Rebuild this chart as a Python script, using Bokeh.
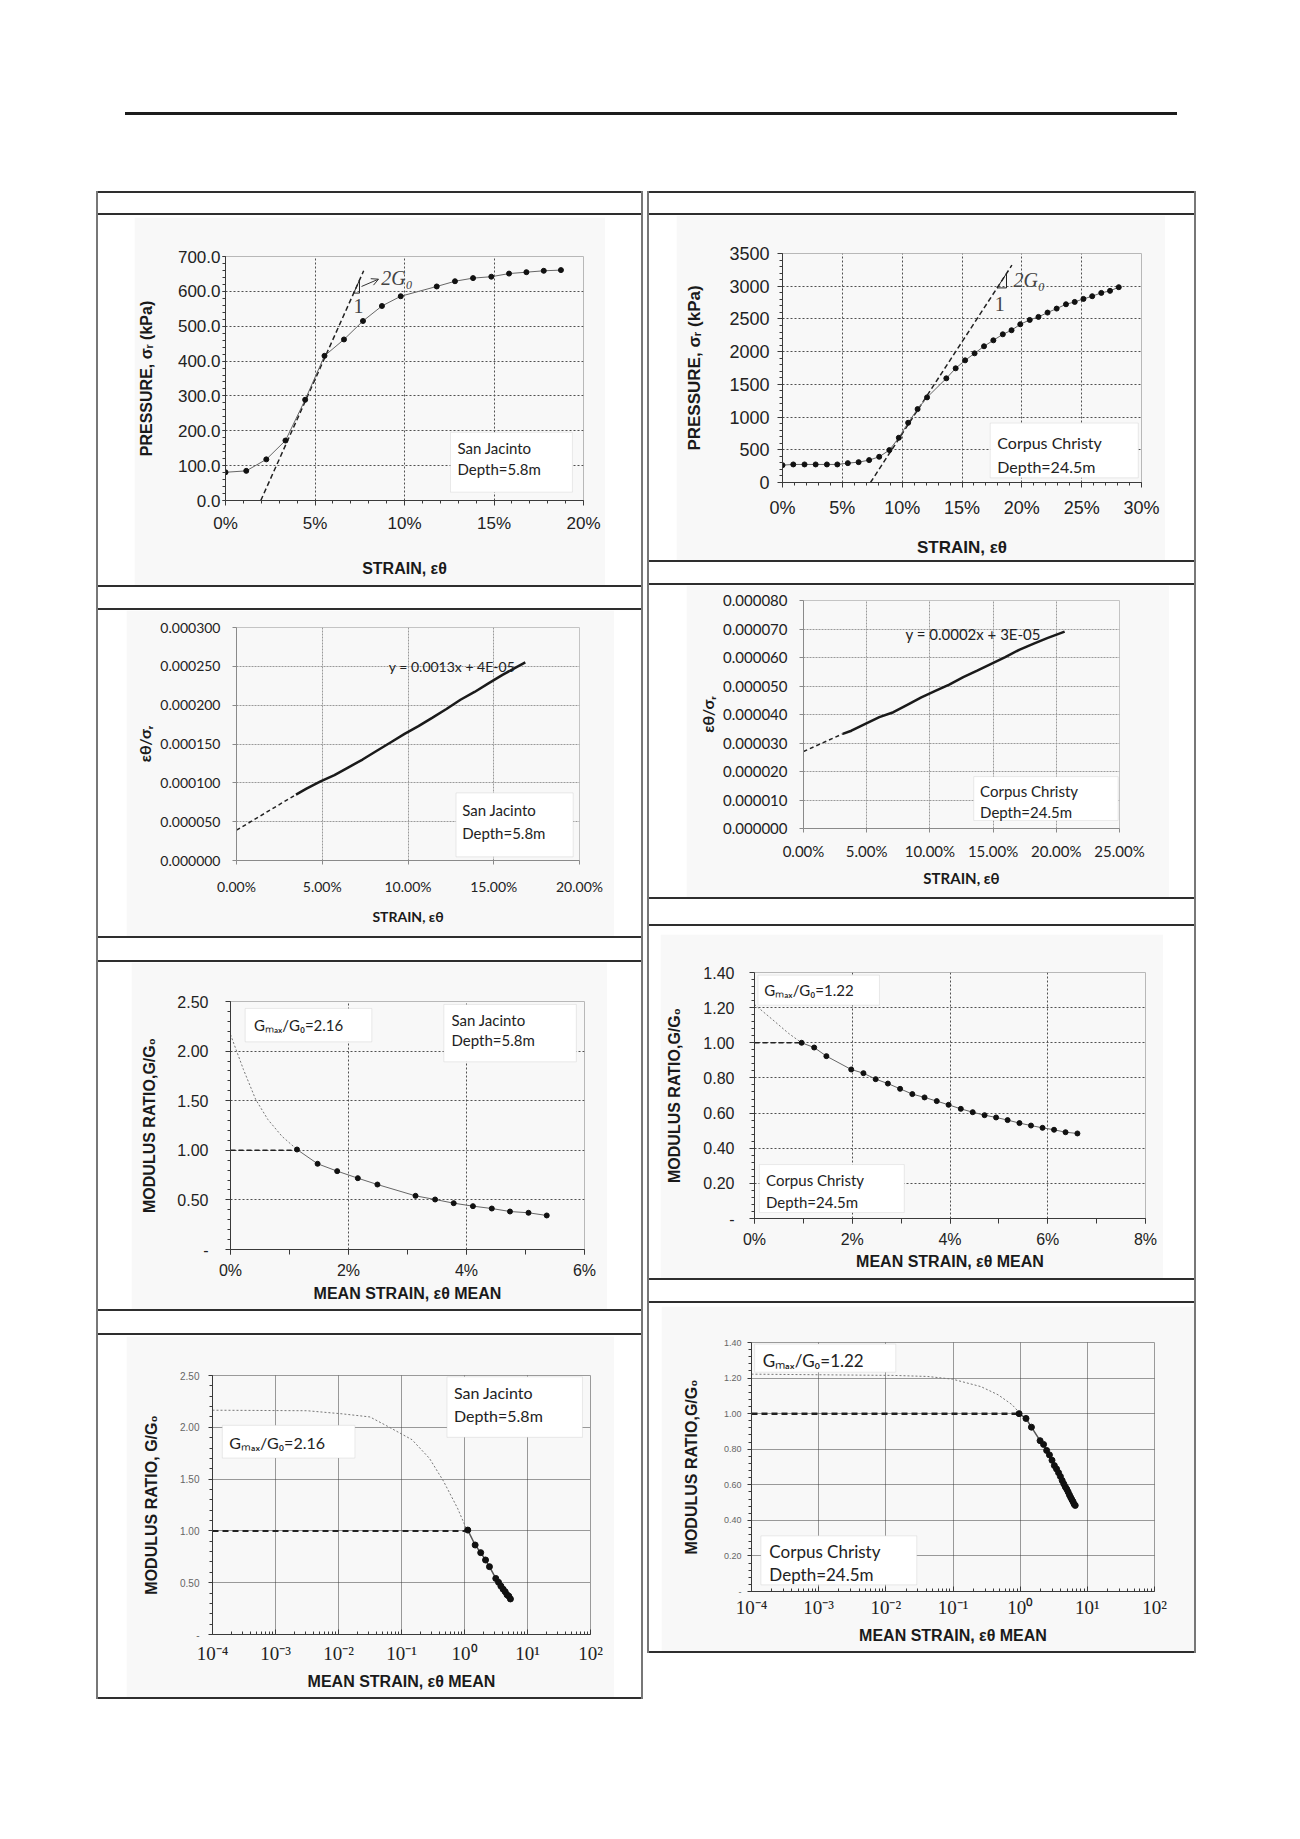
from bokeh.plotting import figure
from bokeh.models import (Range1d, FixedTicker, PrintfTickFormatter, CustomJSTickFormatter,
                          BoxAnnotation, Label, Arrow, OpenHead, Div, Spacer)
from bokeh.layouts import row, column
from bokeh.embed import file_html
from bokeh.resources import INLINE

# ------------------------------------------------------------------ data
# San Jacinto, depth 5.8 m : pressuremeter curve (strain %, pressure kPa)
sj_strain = [0.0, 1.16, 2.28, 3.35, 4.45, 5.53, 6.62, 7.68, 8.74, 9.79, 11.8, 12.82,
             13.83, 14.85, 15.84, 16.81, 17.78, 18.74]
sj_pressure = [81, 85, 118, 172, 289, 415, 462, 515, 558, 586, 614, 629, 638, 642,
               651, 655, 659, 661]
sj_tangent_x = [1.97, 7.72]
sj_tangent_y = [0, 659]

# Corpus Christy, depth 24.5 m
cc_strain = [0.0, 0.9, 1.84, 2.77, 3.71, 4.58, 5.46, 6.36, 7.24, 8.08, 8.93, 9.72, 10.5,
             11.29, 12.08, 13.69, 14.47, 15.26, 16.05, 16.84, 17.62, 18.41, 19.14, 19.87,
             20.66, 21.39, 22.15, 22.91, 23.69, 24.42, 25.15, 25.88, 26.64, 27.37, 28.1]
cc_pressure = [265, 276, 276, 276, 276, 276, 296, 311, 342, 393, 495, 684, 913, 1122, 1301,
               1592, 1745, 1867, 1974, 2082, 2173, 2265, 2327, 2418, 2485, 2531, 2597, 2658,
               2724, 2760, 2806, 2847, 2898, 2929, 2985]
cc_tangent_x = [7.35, 19.17]
cc_tangent_y = [0, 3321]

# hyperbolic transform  eps/sigma vs eps
sj_hyp_x = [3.47, 4.08, 4.90, 5.71, 6.53, 7.35, 8.16, 8.98, 9.80, 10.61, 11.43, 12.24,
            13.06, 13.88, 14.69, 15.51, 16.33, 16.84]
sj_hyp_y = [0.0000849, 0.0000926, 0.000102, 0.000110, 0.000120, 0.000130, 0.000141,
            0.000152, 0.000163, 0.000173, 0.000184, 0.000195, 0.000207, 0.000217,
            0.000228, 0.000239, 0.000249, 0.000255]
sj_hyp_ext_x = [0.0, 3.47]
sj_hyp_ext_y = [0.000039, 0.0000849]
sj_fit_text = "y = 0.0013x + 4E-05"

cc_hyp_x = [3.10, 3.79, 4.89, 6.0, 7.11, 8.21, 9.32, 10.43, 11.53, 12.64, 13.74, 14.85,
            15.96, 17.06, 18.17, 19.28, 20.66]
cc_hyp_y = [0.0000332, 0.0000343, 0.0000367, 0.0000391, 0.0000408, 0.0000434, 0.0000460,
            0.0000483, 0.0000505, 0.0000531, 0.0000554, 0.0000578, 0.0000601, 0.0000627,
            0.0000648, 0.0000668, 0.0000691]
cc_hyp_ext_x = [0.0, 3.10]
cc_hyp_ext_y = [0.0000270, 0.0000332]
cc_fit_text = "y = 0.0002x + 3E-05"

# modulus ratio G/G0 vs mean strain (%)
sj_mean_strain = [1.127, 1.476, 1.808, 2.158, 2.49, 3.136, 3.468, 3.783, 4.109, 4.429,
                  4.737, 5.051, 5.36]
sj_ratio = [1.008, 0.864, 0.790, 0.719, 0.655, 0.541, 0.504, 0.467, 0.437, 0.413, 0.383,
            0.370, 0.343]
sj_ext_lin_x = [0.0, 0.219, 0.427, 0.634, 0.871, 1.127]
sj_ext_lin_y = [2.167, 1.815, 1.512, 1.31, 1.142, 1.008]
sj_ext_log_x = [1e-4, 0.00316, 0.0114, 0.0316, 0.06, 0.147, 0.278, 0.464, 0.774, 1.108]
sj_ext_log_y = [2.165, 2.16, 2.13, 2.10, 2.01, 1.88, 1.70, 1.48, 1.22, 1.0]
sj_gmax_text = "Gₘₐₓ/G₀=2.16"

cc_mean_strain = [0.964, 1.221, 1.471, 1.979, 2.229, 2.479, 2.729, 2.979, 3.229, 3.479,
                  3.729, 3.971, 4.221, 4.464, 4.707, 4.943, 5.179, 5.421, 5.657, 5.893,
                  6.129, 6.364, 6.607]
cc_ratio = [1.0, 0.973, 0.924, 0.848, 0.827, 0.793, 0.768, 0.738, 0.708, 0.689, 0.668,
            0.647, 0.624, 0.605, 0.588, 0.575, 0.560, 0.543, 0.529, 0.516, 0.505, 0.491,
            0.484]
cc_ext_lin_x = [0.0, 0.343, 0.7, 0.964]
cc_ext_lin_y = [1.218, 1.138, 1.053, 1.0]
cc_ext_log_x = [1e-4, 0.0128, 0.042, 0.098, 0.26, 0.47, 0.76, 1.0]
cc_ext_log_y = [1.222, 1.215, 1.209, 1.194, 1.152, 1.106, 1.05, 1.0]
cc_gmax_text = "Gₘₐₓ/G₀=1.22"

sj_site = ["San Jacinto", "Depth=5.8m"]
cc_site = ["Corpus Christy", "Depth=24.5m"]

# tick values
p1_xticks = [0, 5, 10, 15, 20]
p1_yticks = [0, 100, 200, 300, 400, 500, 600, 700]
p2_xticks = [0, 5, 10, 15, 20, 25, 30]
p2_yticks = [0, 500, 1000, 1500, 2000, 2500, 3000, 3500]
p3_xticks = [0, 5, 10, 15, 20]
p3_yticks = [0, 0.00005, 0.0001, 0.00015, 0.0002, 0.00025, 0.0003]
p4_xticks = [0, 5, 10, 15, 20, 25]
p4_yticks = [0, 0.00001, 0.00002, 0.00003, 0.00004, 0.00005, 0.00006, 0.00007, 0.00008]
p5_xticks = [0, 2, 4, 6]
p5_yticks = [0, 0.5, 1.0, 1.5, 2.0, 2.5]
p6_xticks = [0, 2, 4, 6, 8]
p6_yticks = [0, 0.2, 0.4, 0.6, 0.8, 1.0, 1.2, 1.4]
log_ticks = [1e-4, 1e-3, 1e-2, 1e-1, 1e0, 1e1, 1e2]

# ------------------------------------------------------------------ style helpers
ARIAL = "Liberation Sans"
CALIBRI = "Lato"
SERIF = "Liberation Serif"
IMG_BG = "#f8f8f8"


def base_fig(w, h, ml, mr, mt, mb, xr, yr, x_log=False):
    p = figure(width=w, height=h, x_range=Range1d(*xr), y_range=Range1d(*yr),
               x_axis_type="log" if x_log else "linear",
               output_backend="svg", toolbar_location=None,
               min_border_left=ml, min_border_right=mr,
               min_border_top=mt, min_border_bottom=mb)
    p.border_fill_color = IMG_BG
    p.background_fill_color = IMG_BG
    p.outline_line_color = "#b8b8b8"
    for ax in (p.xaxis[0], p.yaxis[0]):
        ax.axis_line_color = "#3a3a3a"
        ax.major_tick_line_color = "#3a3a3a"
        ax.minor_tick_line_color = "#3a3a3a"
        ax.major_tick_in = 0
        ax.major_tick_out = 5
        ax.minor_tick_in = 0
        ax.minor_tick_out = 3
        ax.major_label_text_color = "#222222"
        ax.axis_label_text_color = "#1a1a1a"
        ax.axis_label_text_font_style = "bold"
        ax.major_label_text_font = ARIAL
        ax.axis_label_text_font = ARIAL
    for g in (p.xgrid[0], p.ygrid[0]):
        g.grid_line_color = "#505050"
        g.grid_line_dash = "2 2"
        g.grid_line_width = 1
    return p


def axis_fmt(ax, label, lab_size, title_size, tick_out, lab_standoff, title_standoff,
             font=ARIAL, lab_color="#222222"):
    ax.axis_label = label
    ax.major_label_text_font_size = lab_size
    ax.axis_label_text_font_size = title_size
    ax.major_tick_out = tick_out
    ax.major_label_standoff = lab_standoff
    ax.axis_label_standoff = title_standoff
    ax.major_label_text_font = font
    ax.axis_label_text_font = font
    ax.major_label_text_color = lab_color


def site_box(p, left, right, bottom, top, tx, ty1, ty2, lines, size="15px"):
    p.add_layout(BoxAnnotation(left=left, right=right, bottom=bottom, top=top,
                               fill_color="white", fill_alpha=1.0,
                               line_color="#bcbcbc", line_width=1))
    for txt, ty in zip(lines, (ty1, ty2)):
        p.add_layout(Label(x=tx, y=ty, text=txt, text_font=CALIBRI, text_font_size=size,
                           text_baseline="middle", text_align="left", text_color="#222222"))


def gmax_box(p, left, right, bottom, top, tx, ty, txt, size="15px"):
    p.add_layout(BoxAnnotation(left=left, right=right, bottom=bottom, top=top,
                               fill_color="white", fill_alpha=1.0,
                               line_color="#bcbcbc", line_width=1))
    p.add_layout(Label(x=tx, y=ty, text=txt, text_font=CALIBRI, text_font_size=size,
                       text_baseline="middle", text_align="left", text_color="#222222"))


def on_line(xs, ys, y):
    return xs[0] + (y - ys[0]) * (xs[1] - xs[0]) / (ys[1] - ys[0])


def slope_triangle(p, xs, ys, y_lo, y_hi):
    xa = on_line(xs, ys, y_lo)
    xb = on_line(xs, ys, y_hi)
    p.line([xa, xb, xb, xa], [y_lo, y_hi, y_lo, y_lo], line_color="#222222", line_width=1)


zero_dash = CustomJSTickFormatter(code="return tick == 0 ? '-' : tick.toFixed(2);")
log_fmt_code = """
const e = Math.round(Math.log10(tick));
const m = {"-":"\u207b","0":"\u2070","1":"\u00b9","2":"\u00b2","3":"\u00b3","4":"\u2074",
           "5":"\u2075","6":"\u2076","7":"\u2077","8":"\u2078","9":"\u2079"};
return "10" + String(e).split("").map(c => m[c]).join("");
"""

# ------------------------------------------------------------------ panel 1
p1 = base_fig(471, 368, 87, 22, 39, 85, (0, 20), (0, 700))
p1.xaxis.ticker = FixedTicker(ticks=p1_xticks, minor_ticks=list(range(0, 21)))
p1.yaxis.ticker = FixedTicker(ticks=p1_yticks, minor_ticks=list(range(0, 701, 20)))
p1.xaxis.formatter = PrintfTickFormatter(format="%d%%")
p1.yaxis.formatter = PrintfTickFormatter(format="%.1f")
axis_fmt(p1.xaxis[0], "STRAIN, εθ", "17px", "16px", 5, 8, 24)
axis_fmt(p1.yaxis[0], "PRESSURE, σᵣ (kPa)", "17px", "16px", 3, 2, 20)
p1.line(sj_tangent_x, sj_tangent_y, line_color="#222222", line_width=1.5, line_dash="5 3")
p1.line(sj_strain, sj_pressure, line_color="#666666", line_width=1)
p1.scatter(sj_strain, sj_pressure, size=5, color="#111111")
slope_triangle(p1, sj_tangent_x, sj_tangent_y, 595, 632)
p1.add_layout(Arrow(x_start=7.6, y_start=614, x_end=8.55, y_end=635, line_width=1,
                    line_color="#333333", end=OpenHead(size=7, line_width=1, line_color="#333333")))
p1.add_layout(Label(x=8.7, y=638, text="2G₀", text_font=SERIF, text_font_style="italic",
                    text_font_size="20px", text_baseline="middle"))
p1.add_layout(Label(x=7.43, y=559, text="1", text_font=SERIF, text_font_size="20px",
                    text_baseline="middle", text_align="center"))
site_box(p1, 12.57, 19.38, 23.9, 195.8, 12.96, 151, 90.7, sj_site, "15px")

# ------------------------------------------------------------------ panel 2
p2 = base_fig(489, 345, 106, 24, 38, 78, (0, 30), (0, 3500))
p2.xaxis.ticker = FixedTicker(ticks=p2_xticks, minor_ticks=list(range(0, 31)))
p2.yaxis.ticker = FixedTicker(ticks=p2_yticks, minor_ticks=list(range(0, 3501, 100)))
p2.xaxis.formatter = PrintfTickFormatter(format="%d%%")
p2.yaxis.formatter = PrintfTickFormatter(format="%d")
axis_fmt(p2.xaxis[0], "STRAIN, εθ", "18px", "17px", 5, 10, 17)
axis_fmt(p2.yaxis[0], "PRESSURE, σᵣ (kPa)", "18px", "17px", 5, 8, 22)
p2.line(cc_tangent_x, cc_tangent_y, line_color="#222222", line_width=1.5, line_dash="5 3")
p2.line(cc_strain, cc_pressure, line_color="#666666", line_width=1)
p2.scatter(cc_strain, cc_pressure, size=5, color="#111111")
slope_triangle(p2, cc_tangent_x, cc_tangent_y, 2974, 3194)
p2.add_layout(Label(x=19.3, y=3092, text="2G₀", text_font=SERIF, text_font_style="italic",
                    text_font_size="20px", text_baseline="middle"))
p2.add_layout(Label(x=18.15, y=2735, text="1", text_font=SERIF, text_font_size="20px",
                    text_baseline="middle", text_align="center"))
site_box(p2, 17.36, 29.73, 71, 908, 17.95, 607, 240, cc_site, "16px")

# ------------------------------------------------------------------ panel 3
def excel2010(p):
    for ax in (p.xaxis[0], p.yaxis[0]):
        ax.axis_line_color = "#8a8a8a"
        ax.major_tick_line_color = "#8a8a8a"
        ax.minor_tick_line_color = None
        ax.axis_label_text_font = CALIBRI
        ax.major_label_text_font = CALIBRI
    for g in (p.xgrid[0], p.ygrid[0]):
        g.grid_line_color = "#9a9a9a"
        g.grid_line_dash = "2 1"
    p.outline_line_color = "#c4c4c4"


p3 = base_fig(488, 326, 110, 35, 17, 76, (0, 20), (0, 0.0003))
excel2010(p3)
p3.xaxis.ticker = FixedTicker(ticks=p3_xticks)
p3.yaxis.ticker = FixedTicker(ticks=p3_yticks)
p3.xaxis.formatter = PrintfTickFormatter(format="%.2f%%")
p3.yaxis.formatter = PrintfTickFormatter(format="%.6f")
axis_fmt(p3.xaxis[0], "STRAIN, εθ", "14px", "14px", 4, 13, 10, font=CALIBRI)
axis_fmt(p3.yaxis[0], "εθ/σᵣ", "14px", "16px", 4, 12, 3, font=CALIBRI)
p3.line(sj_hyp_ext_x, sj_hyp_ext_y, line_color="#222222", line_width=1.5, line_dash="4 3")
p3.line(sj_hyp_x, sj_hyp_y, line_color="#1a1a1a", line_width=2.5)
p3.add_layout(Label(x=8.88, y=0.00025, text=sj_fit_text, text_font=CALIBRI,
                    text_font_size="14px", text_baseline="middle", text_color="#222222"))
site_box(p3, 12.8, 19.63, 0.0000047, 0.000087, 13.16, 0.0000647, 0.0000356, sj_site, "15px")

# ------------------------------------------------------------------ panel 4
p4 = base_fig(483, 312, 117, 50, 15, 69, (0, 25), (0, 0.00008))
excel2010(p4)
p4.xaxis.ticker = FixedTicker(ticks=p4_xticks)
p4.yaxis.ticker = FixedTicker(ticks=p4_yticks)
p4.xaxis.formatter = PrintfTickFormatter(format="%.2f%%")
p4.yaxis.formatter = PrintfTickFormatter(format="%.6f")
axis_fmt(p4.xaxis[0], "STRAIN, εθ", "15px", "15px", 4, 9, 6, font=CALIBRI)
axis_fmt(p4.yaxis[0], "εθ/σᵣ", "15px", "16px", 4, 12, 3, font=CALIBRI)
p4.line(cc_hyp_ext_x, cc_hyp_ext_y, line_color="#222222", line_width=1.5, line_dash="4 3")
p4.line(cc_hyp_x, cc_hyp_y, line_color="#1a1a1a", line_width=2.5)
p4.add_layout(Label(x=8.07, y=0.0000683, text=cc_fit_text, text_font=CALIBRI,
                    text_font_size="15px", text_baseline="middle", text_color="#222222"))
site_box(p4, 13.47, 24.89, 0.0000028, 0.0000182, 13.97, 0.000013, 0.00000596, cc_site, "15px")

# ------------------------------------------------------------------ panel 5
p5 = base_fig(476, 347, 99, 23, 39, 60, (0, 6), (0, 2.5))
p5.xaxis.ticker = FixedTicker(ticks=p5_xticks, minor_ticks=[0, 1, 2, 3, 4, 5, 6])
p5.yaxis.ticker = FixedTicker(ticks=p5_yticks, minor_ticks=[i / 10 for i in range(26)])
p5.xaxis.formatter = PrintfTickFormatter(format="%d%%")
p5.yaxis.formatter = zero_dash
p5.xaxis.minor_tick_out = 5
axis_fmt(p5.xaxis[0], "MEAN STRAIN, εθ MEAN", "16px", "16px", 5, 7, 3)
axis_fmt(p5.yaxis[0], "MODULUS RATIO,G/G₀", "16px", "16px", 5, 17, 16)
p5.line(sj_ext_lin_x, sj_ext_lin_y, line_color="#777777", line_width=1, line_dash="2 2")
p5.line([0, sj_mean_strain[0]], [1, 1], line_color="#222222", line_width=1.5, line_dash="5 3")
p5.line(sj_mean_strain, sj_ratio, line_color="#666666", line_width=1)
p5.scatter(sj_mean_strain, sj_ratio, size=5, color="#111111")
gmax_box(p5, 0.249, 2.395, 2.093, 2.43, 0.397, 2.268, sj_gmax_text, "15px")
site_box(p5, 3.616, 5.862, 1.892, 2.47, 3.746, 2.318, 2.107, sj_site, "15px")

# ------------------------------------------------------------------ panel 6
p6 = base_fig(503, 344, 94, 18, 38, 60, (0, 8), (0, 1.4))
p6.xaxis.ticker = FixedTicker(ticks=p6_xticks, minor_ticks=list(range(9)))
p6.yaxis.ticker = FixedTicker(ticks=p6_yticks, minor_ticks=[i * 0.04 for i in range(36)])
p6.xaxis.formatter = PrintfTickFormatter(format="%d%%")
p6.yaxis.formatter = zero_dash
p6.xaxis.minor_tick_out = 5
axis_fmt(p6.xaxis[0], "MEAN STRAIN, εθ MEAN", "16px", "16px", 5, 7, 2)
axis_fmt(p6.yaxis[0], "MODULUS RATIO,G/G₀", "16px", "16px", 5, 15, 17)
p6.line(cc_ext_lin_x, cc_ext_lin_y, line_color="#777777", line_width=1, line_dash="2 2")
p6.line([0, cc_mean_strain[0]], [1, 1], line_color="#222222", line_width=1.5, line_dash="5 3")
p6.line(cc_mean_strain, cc_ratio, line_color="#666666", line_width=1)
p6.scatter(cc_mean_strain, cc_ratio, size=5, color="#111111")
gmax_box(p6, 0.071, 2.557, 1.214, 1.385, 0.2, 1.30, cc_gmax_text, "15px")
site_box(p6, 0.1, 3.064, 0.034, 0.307, 0.236, 0.218, 0.095, cc_site, "15px")

# ------------------------------------------------------------------ panels 7, 8 (log)
log_minor = [k * 10.0 ** e for e in range(-4, 2) for k in range(2, 10)]


def log_axis(p):
    p.xaxis.ticker = FixedTicker(ticks=log_ticks, minor_ticks=log_minor)
    p.xaxis.formatter = CustomJSTickFormatter(code=log_fmt_code)
    p.xaxis.major_tick_in = 5
    p.xaxis.major_tick_out = 0
    p.xaxis.minor_tick_in = 3
    p.xaxis.minor_tick_out = 0
    p.outline_line_color = "#9a9a9a"
    for g in (p.xgrid[0], p.ygrid[0]):
        g.grid_line_color = "#3a3a3a"
        g.grid_line_dash = "1 1"


p7 = base_fig(488, 361, 86, 24, 39, 63, (1e-4, 1e2), (0, 2.5), x_log=True)
log_axis(p7)
p7.yaxis.ticker = FixedTicker(ticks=p5_yticks, minor_ticks=[i / 10 for i in range(26)])
p7.yaxis.formatter = zero_dash
axis_fmt(p7.xaxis[0], "MEAN STRAIN, εθ MEAN", "19px", "16px", 0, 8, 6)
p7.xaxis.major_label_text_font = SERIF
p7.xaxis.axis_label_text_font = ARIAL
axis_fmt(p7.yaxis[0], "MODULUS RATIO, G/G₀", "10px", "16px", 4, 9, 17, lab_color="#666666")
p7.line(sj_ext_log_x, sj_ext_log_y, line_color="#777777", line_width=1, line_dash="2 2")
p7.line([1e-4, sj_mean_strain[0]], [1, 1], line_color="#222222", line_width=2, line_dash="6 4")
p7.line(sj_mean_strain, sj_ratio, line_color="#555555", line_width=1.5)
p7.scatter(sj_mean_strain, sj_ratio, size=6, color="#111111")
gmax_box(p7, 1.43e-4, 0.01824, 1.703, 2.019, 1.85e-4, 1.858, sj_gmax_text, "16px")
site_box(p7, 0.527, 74.5, 1.903, 2.487, 0.681, 2.332, 2.113, sj_site, "16px")

p8 = base_fig(533, 345, 90, 40, 36, 60, (1e-4, 1e2), (0, 1.4), x_log=True)
log_axis(p8)
p8.yaxis.ticker = FixedTicker(ticks=p6_yticks, minor_ticks=[i * 0.04 for i in range(36)])
p8.yaxis.formatter = zero_dash
axis_fmt(p8.xaxis[0], "MEAN STRAIN, εθ MEAN", "19px", "16px", 0, 5, 6)
p8.xaxis.major_label_text_font = SERIF
p8.xaxis.axis_label_text_font = ARIAL
axis_fmt(p8.yaxis[0], "MODULUS RATIO,G/G₀", "9px", "16px", 4, 6, 21, lab_color="#666666")
p8.line(cc_ext_log_x, cc_ext_log_y, line_color="#777777", line_width=1, line_dash="2 2")
p8.line([1e-4, cc_mean_strain[0]], [1, 1], line_color="#222222", line_width=2.5, line_dash="6 4")
p8.line(cc_mean_strain, cc_ratio, line_color="#555555", line_width=1.5)
p8.scatter(cc_mean_strain, cc_ratio, size=6, color="#111111")
gmax_box(p8, 1.114e-4, 0.01406, 1.233, 1.391, 1.468e-4, 1.297, cc_gmax_text, "17px")
site_box(p8, 1.38e-4, 0.0289, 0.0375, 0.313, 1.845e-4, 0.225, 0.0975, cc_site, "17px")

# ------------------------------------------------------------------ page layout
H_COLOR = "#2e2e2e"
V_COLOR = "#777777"


def bar(w, h, color):
    return Div(width=w, height=h, margin=0, styles={"background-color": color})


def hline(w):
    return bar(w, 2, H_COLOR)


def vline(h):
    return bar(2, h, V_COLOR)


def cell(inner_w, cell_h, fig, lp, tp):
    fw, fh = fig.width, fig.height
    rp = inner_w - lp - fw
    bp = cell_h - tp - fh
    col_items = []
    if tp > 0:
        col_items.append(Spacer(width=fw, height=tp, margin=0))
    col_items.append(fig)
    if bp > 0:
        col_items.append(Spacer(width=fw, height=bp, margin=0))
    row_items = []
    if lp > 0:
        row_items.append(Spacer(width=lp, height=cell_h, margin=0))
    row_items.append(column(col_items, spacing=0) if len(col_items) > 1 else fig)
    if rp > 0:
        row_items.append(Spacer(width=rp, height=cell_h, margin=0))
    return row(row_items, spacing=0)


def stack(inner_w, headers, cell_heights, cells):
    items = []
    for hh, c in zip(headers, cells):
        items += [hline(inner_w), Spacer(width=inner_w, height=hh, margin=0), hline(inner_w), c]
    items.append(hline(inner_w))
    total = sum(headers) + sum(cell_heights) + 2 * (2 * len(headers) + 1)
    return row(vline(total), column(items, spacing=0), vline(total), spacing=0)


L_W, R_W = 543, 545
left_heads, left_cells = [20, 21, 22, 22], [370, 326, 347, 362]
right_heads, right_cells = [20, 21, 25, 21], [345, 312, 352, 348]

left_block = stack(L_W, left_heads, left_cells, [
    cell(L_W, 370, p1, 36, 2),
    cell(L_W, 326, p3, 28, 0),
    cell(L_W, 347, p5, 33, 0),
    cell(L_W, 362, p7, 28, 1),
])
right_block = stack(R_W, right_heads, right_cells, [
    cell(R_W, 345, p2, 27, 0),
    cell(R_W, 312, p4, 37, 0),
    cell(R_W, 352, p6, 11, 8),
    cell(R_W, 348, p8, 12, 3),
])

top_block = column(
    Spacer(width=1284, height=112, margin=0),
    row(Spacer(width=125, height=3, margin=0), bar(1052, 3, "#1c1c1c"), spacing=0),
    Spacer(width=1284, height=76, margin=0),
    spacing=0,
)

page = column(top_block,
              row(Spacer(width=96, height=10, margin=0), left_block,
                  Spacer(width=4, height=10, margin=0), right_block, spacing=0),
              spacing=0)

open("out.html", "w").write(file_html(page, INLINE, title="Pressuremeter modulus ratio"))
